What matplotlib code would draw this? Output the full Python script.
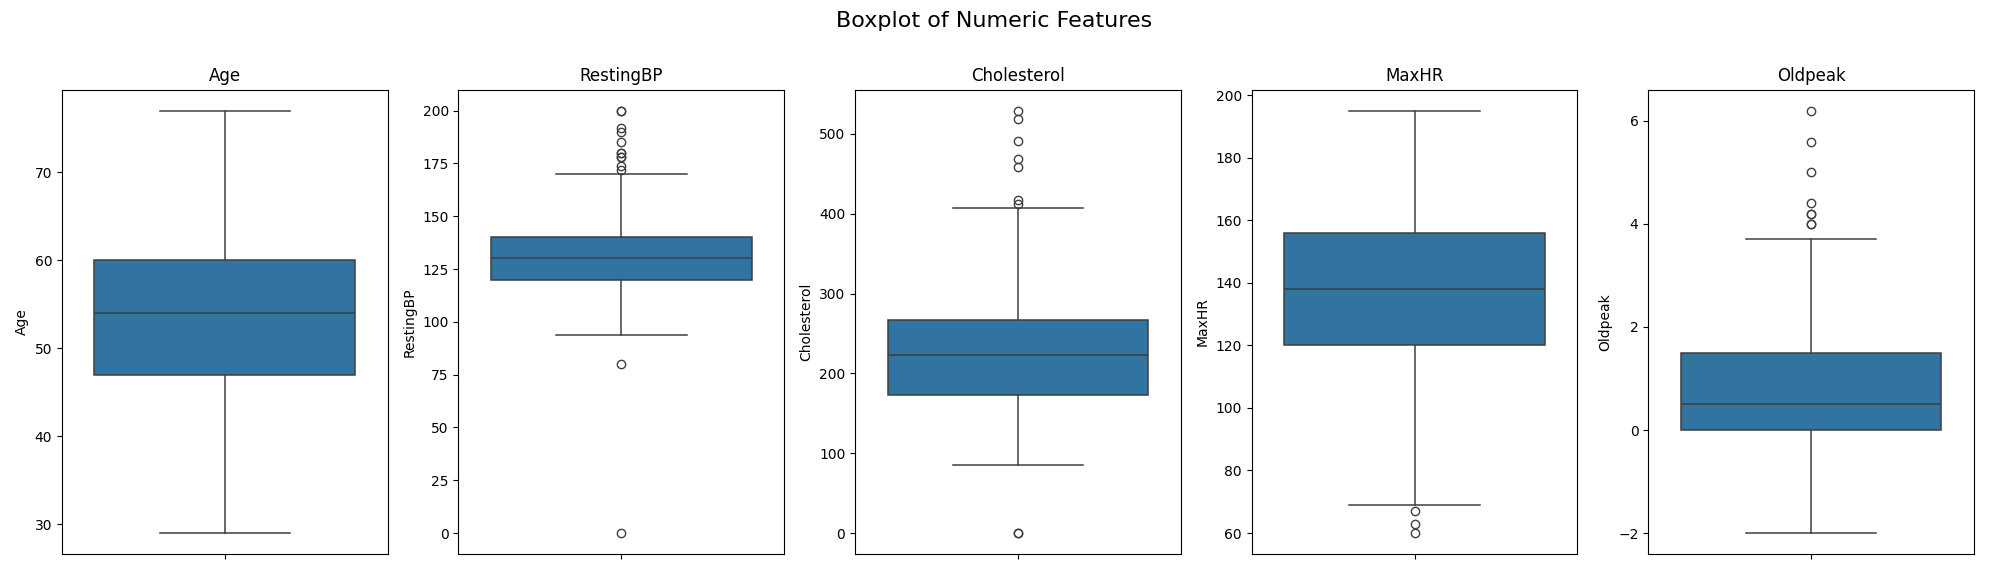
import matplotlib
matplotlib.use("Agg")
import matplotlib.pyplot as plt

features = ["Age", "RestingBP", "Cholesterol", "MaxHR", "Oldpeak"]
whislo = [29, 94, 85, 69, -2.0]
q1 = [47, 120, 173, 120, 0.0]
med = [54, 130, 223, 138, 0.5]
q3 = [60, 140, 267, 156, 1.5]
whishi = [77, 170, 407, 195, 3.7]
fliers = [
    [],
    [200, 200, 192, 190, 185, 180, 180, 178, 178, 174, 172, 80, 0],
    [529, 518, 491, 468, 458, 417, 412, 0, 0],
    [67, 63, 60],
    [6.2, 5.6, 5.0, 4.4, 4.2, 4.2, 4.0, 4.0],
]

fig, axes = plt.subplots(1, 5, figsize=(19.89, 5.74), dpi=100)
for i, ax in enumerate(axes):
    st = [dict(whislo=whislo[i], q1=q1[i], med=med[i], q3=q3[i], whishi=whishi[i], fliers=fliers[i])]
    ax.bxp(st, positions=[0], widths=0.8, patch_artist=True, showcaps=True,
           boxprops=dict(facecolor="#3274a1", edgecolor="#3f3f3f", linewidth=1.1),
           medianprops=dict(color="#3f3f3f", linewidth=1.1),
           whiskerprops=dict(color="#3f3f3f", linewidth=1.1),
           capprops=dict(color="#3f3f3f", linewidth=1.1),
           flierprops=dict(marker="o", markerfacecolor="none", markeredgecolor="#3f3f3f", markersize=6))
    ax.set_xlim(-0.5, 0.5)
    ax.set_xticks([0])
    ax.set_xticklabels([""])
    ax.set_ylabel(features[i])
    ax.set_title(features[i], fontsize=12)
fig.suptitle("Boxplot of Numeric Features", fontsize=16)
fig.tight_layout(rect=[0, 0, 1, 0.97])
fig.savefig("out.png")
